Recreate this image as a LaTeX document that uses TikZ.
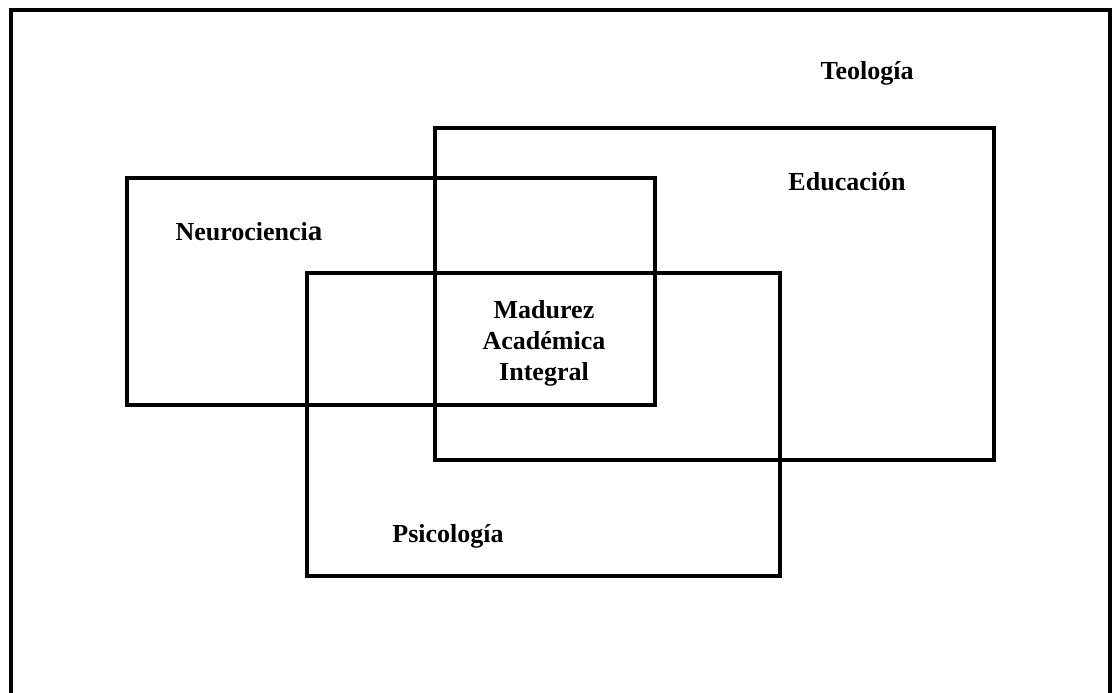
\documentclass[tikz,border=0pt]{standalone}
\usepackage{fontspec}
\setmainfont{Liberation Serif}
\begin{document}
\begin{tikzpicture}[x=1pt,y=-1pt,
  box/.style={line width=3.6pt,line join=miter},
  lbl/.style={anchor=base,inner sep=0pt,font=\bfseries\fontsize{26}{31}\selectfont}]
\useasboundingbox (0,0) rectangle (1114,693);
\begin{scope}
\clip (0,0) rectangle (1114,693);
\draw[box] (11,720) -- (11,10) -- (1110,10) -- (1110,720);
\end{scope}
\draw[box] (435,128) rectangle (994,460);
\draw[box] (127,178) rectangle (655,405);
\draw[box] (307,273) rectangle (780,576);
\node[lbl] (teo) at (867,79) {Teología};
\node[lbl] (edu) at (847,190) {Educación};
\node[lbl] (neu) at (249,240) {Neurocienci{\fontsize{29}{29}\selectfont a}};
\node[lbl] (mad1) at (544,318) {Madurez};
\node[lbl] (mad2) at (544,349) {Académica};
\node[lbl] (mad3) at (544,380) {Integral};
\node[lbl] (psi) at (448,542) {Psicología};
\end{tikzpicture}
\end{document}
